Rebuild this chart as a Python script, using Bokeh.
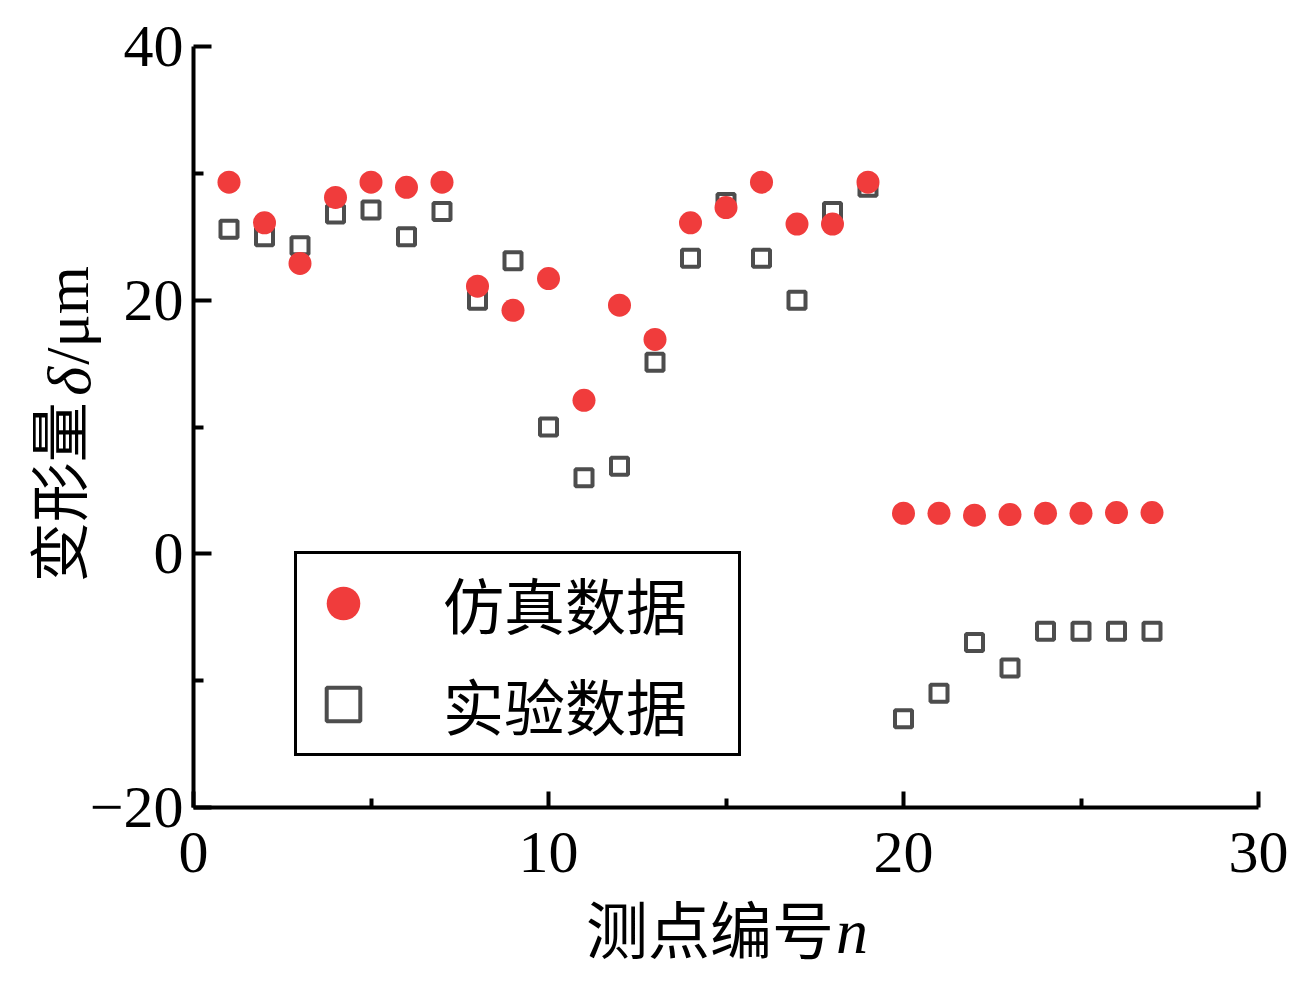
from bokeh.plotting import figure
from bokeh.models import Range1d, Legend, LegendItem, FixedTicker, LinearAxis
from bokeh.embed import file_html
from bokeh.resources import INLINE

# ---------------- data ----------------
points = list(range(1, 28))
sim_values = [29.3, 26.1, 22.9, 28.1, 29.3, 28.9, 29.3, 21.1, 19.2, 21.7,
              12.1, 19.6, 16.9, 26.1, 27.3, 29.3, 26.0, 26.0, 29.3,
              3.2, 3.2, 3.05, 3.1, 3.2, 3.2, 3.25, 3.25]
exp_values = [25.6, 25.0, 24.3, 26.8, 27.1, 25.0, 27.0, 20.0, 23.1, 10.0,
              6.0, 6.9, 15.1, 23.3, 27.7, 23.3, 20.0, 27.0, 28.9,
              -13.0, -11.0, -7.0, -9.0, -6.1, -6.1, -6.1, -6.1]
series_names = ["仿真数据", "实验数据"]
x_ticks = [0, 10, 20, 30]
x_minor_ticks = [5, 15, 25]
y_ticks = [-20, 0, 20, 40]
y_minor_ticks = [-10, 10, 30]
y_tick_labels = {-20: "\u221220", 0: "0", 20: "20", 40: "40"}
x_title = "测点编号"
x_var = "n"
y_title = "变形量"
y_var = "δ"
y_unit = "/μm"

RED = "#F03C3C"
GRAY = "#4D4D4D"
SERIF = "Liberation Serif"
CJK = "Noto Sans CJK SC"

p = figure(width=1310, height=998, output_backend="svg", toolbar_location=None,
           x_range=Range1d(0, 30), y_range=Range1d(-20, 40),
           min_border_left=193, min_border_right=52,
           min_border_top=46, min_border_bottom=191)
p.background_fill_color = "white"
p.border_fill_color = "white"
p.outline_line_color = None
p.xgrid.visible = False
p.ygrid.visible = False

for ax in (p.xaxis[0], p.yaxis[0]):
    ax.axis_line_width = 4
    ax.axis_line_color = "black"
    ax.major_tick_line_width = 4
    ax.minor_tick_line_width = 4
    ax.major_tick_line_color = "black"
    ax.minor_tick_line_color = "black"
    ax.major_tick_out = 0
    ax.minor_tick_out = 0
    ax.major_label_text_font = SERIF
    ax.major_label_text_font_size = "60px"
    ax.major_label_text_color = "black"

p.xaxis.ticker = FixedTicker(ticks=x_ticks, minor_ticks=x_minor_ticks)
p.yaxis.ticker = FixedTicker(ticks=y_ticks, minor_ticks=y_minor_ticks)
p.xaxis.major_tick_in = 16
p.xaxis.minor_tick_in = 9
p.yaxis.major_tick_in = 18
p.yaxis.minor_tick_in = 10
p.xaxis.major_label_standoff = 25
p.yaxis.major_label_standoff = 10
p.yaxis.major_label_overrides = y_tick_labels

r_exp = p.scatter(points, exp_values, marker="square", size=17,
                  fill_color=None, line_color=GRAY, line_width=4)
r_sim = p.scatter(points, sim_values, marker="circle", size=23,
                  fill_color=RED, line_color=None)

legend = Legend(items=[LegendItem(label=series_names[0], renderers=[r_sim]),
                       LegendItem(label=series_names[1], renderers=[r_exp])],
                location=(101, 51), glyph_width=84, glyph_height=90,
                spacing=11, padding=4, margin=0, label_standoff=58,
                label_width=291, label_text_font=CJK,
                label_text_font_size="61px", label_text_color="black",
                border_line_color="black", border_line_width=3,
                border_line_alpha=1.0,
                background_fill_color="white", background_fill_alpha=1.0)
p.add_layout(legend, "center")


# axis titles with mixed fonts: one label-only axis per text piece
def title_axis(text, pos, font, size, style, standoff, vertical=False):
    ax = LinearAxis(ticker=FixedTicker(ticks=[pos], minor_ticks=[]),
                    major_label_overrides={pos: text},
                    axis_line_color=None, major_tick_line_color=None,
                    minor_tick_line_color=None,
                    major_tick_in=0, major_tick_out=0,
                    minor_tick_in=0, minor_tick_out=0,
                    major_label_text_font=font,
                    major_label_text_font_size=size,
                    major_label_text_font_style=style,
                    major_label_text_color="black",
                    major_label_standoff=standoff)
    if vertical:
        ax.major_label_orientation = "vertical"
    return ax


# x title: "测点编号" + italic n (positions are label centres along the axis)
p.add_layout(title_axis(x_title, 14.55, CJK, "62px", "normal", 7), "below")
p.add_layout(title_axis(x_var, 18.55, SERIF, "64px", "italic", -79), "below")

# y title: "变形量" + italic δ + "/μm"
p.add_layout(title_axis(y_var, 13.6, SERIF, "62px", "italic", -17, True), "left")
p.add_layout(title_axis(y_unit, 18.8, SERIF, "62px", "normal", -69, True), "left")
p.add_layout(title_axis(y_title, 4.85, CJK, "60px", "normal", -69, True), "left")

open("out.html", "w").write(file_html(p, INLINE))
